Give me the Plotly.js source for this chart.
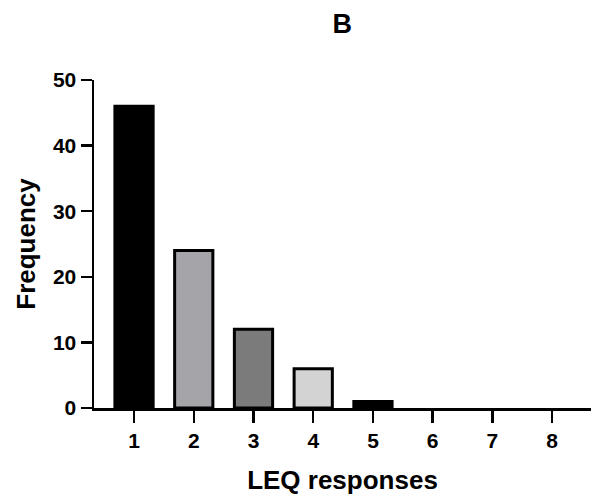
<!DOCTYPE html>
<html>
<head>
<meta charset="utf-8">
<script src="https://cdn.plot.ly/plotly-3.0.1.min.js"></script>
<style>html,body{margin:0;padding:0;background:#fff;}#chart{width:591px;height:501px;}</style>
</head>
<body>
<div id="chart"></div>
<script>
const categories = [1, 2, 3, 4, 5, 6, 7, 8];
const frequency = [46, 24, 12, 6, 1, 0, 0, 0];
const barColors = ['#000000', '#a5a5a9', '#7b7b7b', '#d3d3d3', '#000000', '#000000', '#000000', '#000000'];
const yTicks = [0, 10, 20, 30, 40, 50];

const fam = 'Liberation Sans, Arial, sans-serif';

const trace = {
  type: 'bar',
  x: categories,
  y: frequency,
  width: 0.64,
  marker: {color: barColors, line: {color: '#000', width: frequency.map(v => v > 0 ? 3 : 0)}},
  hoverinfo: 'x+y'
};

const layout = {
  width: 591, height: 501,
  margin: {l: 94, r: 0, t: 80, b: 93},
  paper_bgcolor: '#fff', plot_bgcolor: '#fff',
  showlegend: false,
  title: {text: '<b>B</b>', font: {family: fam, size: 27, color: '#000'}, x: 0.579, xanchor: 'center', y: 0.952, yanchor: 'middle'},
  xaxis: {
    range: [0.33, 8.65],
    tickvals: categories,
    ticktext: categories.map(c => '<b>' + c + '</b>'),
    ticks: 'outside', ticklen: 12, tickwidth: 2.5, tickcolor: '#000',
    showline: true, linecolor: '#000', linewidth: 2.5,
    showgrid: false, zeroline: false,
    tickfont: {family: fam, size: 21, color: '#000'},
    title: {text: '<b>LEQ responses</b>', font: {family: fam, size: 26, color: '#000'}, standoff: 20}
  },
  yaxis: {
    range: [0, 50],
    tickvals: yTicks,
    ticktext: yTicks.map(t => '<b>' + t + '</b>'),
    ticks: 'outside', ticklen: 11, tickwidth: 2.5, tickcolor: '#000',
    showline: true, linecolor: '#000', linewidth: 2.5,
    showgrid: false, zeroline: false,
    tickfont: {family: fam, size: 21, color: '#000'},
    title: {text: '<b>Frequency</b>', font: {family: fam, size: 26, color: '#000'}, standoff: 10}
  }
};

Plotly.newPlot('chart', [trace], layout, {displayModeBar: false, staticPlot: true});
</script>
</body>
</html>
